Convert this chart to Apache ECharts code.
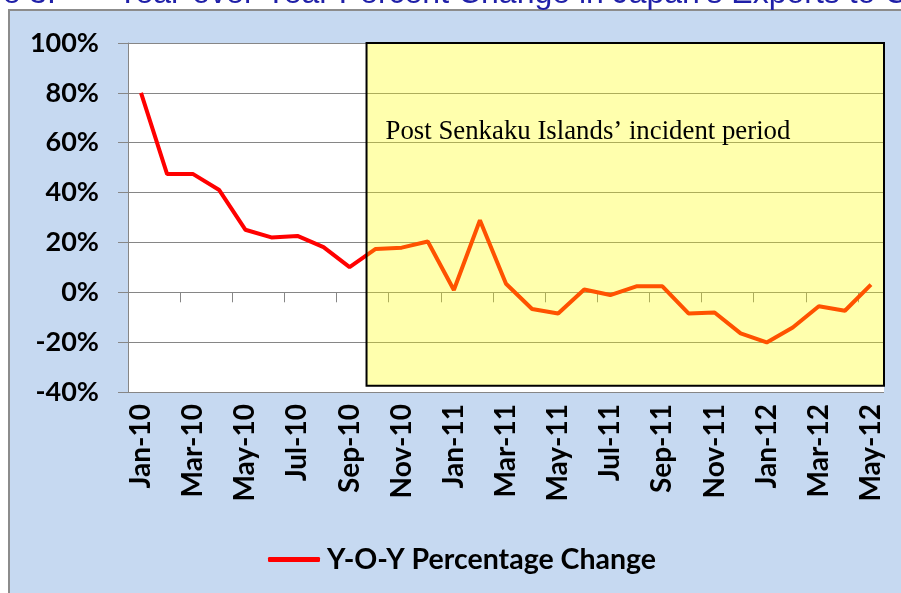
<!DOCTYPE html>
<html>
<head>
<meta charset="utf-8">
<title>Japan exports to China - Y-O-Y change</title>
<script src="https://cdn.jsdelivr.net/npm/echarts@6/dist/echarts.min.js"></script>
<style>
  html, body { margin: 0; padding: 0; background: #fff; }
  #chart { width: 901px; height: 593px; }
</style>
</head>
<body>
<div id="chart"></div>
<script>
// months on the category axis
const months = [
  'Jan-10', 'Feb-10', 'Mar-10', 'Apr-10', 'May-10', 'Jun-10', 'Jul-10', 'Aug-10', 'Sep-10', 'Oct-10', 'Nov-10', 'Dec-10',
  'Jan-11', 'Feb-11', 'Mar-11', 'Apr-11', 'May-11', 'Jun-11', 'Jul-11', 'Aug-11', 'Sep-11', 'Oct-11', 'Nov-11', 'Dec-11',
  'Jan-12', 'Feb-12', 'Mar-12', 'Apr-12', 'May-12'
]
// year over year change, percent
const yoyChange = [
  80, 47.4, 47.4, 41, 25.1, 22, 22.6, 18.1, 10.1, 17.4, 17.9, 20.4,
  0.9, 28.9, 3.4, -6.7, -8.5, 1.1, -1.1, 2.4, 2.4, -8.5, -8.1, -16.5,
  -20.1, -14.1, -5.6, -7.4, 3.1
]
// y axis ticks
const yMin = -40
const yMax = 100
const yStep = 20
// shaded box: post incident period (month slots / percent)
const incidentFrom = 9.15
const incidentTo = 29
const incidentTop = 100.5
const incidentBottom = -37.5

const seriesName = 'Y-O-Y Percentage Change'
const gridColor = '#868686'

const chart = echarts.init(document.getElementById('chart'))

chart.setOption({
  animation: false,
  backgroundColor: '#fff',
  graphic: [
    {
      type: 'rect', z: -1, silent: true,
      shape: { x: 9, y: 10, width: 900, height: 590 },
      style: { fill: '#c6d9f1', stroke: '#8c8c8c', lineWidth: 2 }
    },
    {
      type: 'text', x: 56, y: -22, silent: true,
      style: { text: 'Figure 3:', align: 'right', fill: '#1f1fa8', font: '32px "Liberation Sans", Arial, sans-serif' }
    },
    {
      type: 'text', x: 117, y: -22, silent: true,
      style: { text: 'Year-over-Year Percent Change in Japan\u2019s Exports to China', fill: '#1f1fa8', font: '32px "Liberation Sans", Arial, sans-serif' }
    }
  ],
  grid: {
    left: 128, top: 43, right: 17, bottom: 201,
    show: true, backgroundColor: '#fff', borderWidth: 0
  },
  legend: {
    data: [seriesName],
    left: 268, top: 545, padding: 0,
    icon: 'roundRect', itemWidth: 52, itemHeight: 5, itemGap: 0,
    textStyle: { fontFamily: 'Lato', fontWeight: 'bold', fontSize: 28.5, color: '#000', padding: [0, 0, 0, 2] }
  },
  xAxis: [
    {
      // labels along the bottom
      type: 'category', data: months, position: 'bottom',
      axisLine: { show: false, onZero: false },
      axisTick: { show: false },
      axisLabel: {
        interval: 1, rotate: 90, margin: 12,
        fontFamily: 'Lato', fontWeight: 'bold', fontSize: 28, color: '#000'
      }
    },
    {
      // the 0% line with its ticks
      type: 'category', data: months, position: 'bottom',
      axisLine: { show: true, onZero: true, lineStyle: { color: gridColor, width: 1 } },
      axisTick: { show: true, interval: 1, length: 10, lineStyle: { color: gridColor } },
      axisLabel: { show: false }
    },
    {
      // hidden value scale for the shaded box
      type: 'value', min: 0, max: months.length, show: false
    }
  ],
  yAxis: {
    type: 'value', min: yMin, max: yMax, interval: yStep,
    axisLine: { show: true, onZero: false, lineStyle: { color: gridColor } },
    axisTick: { show: true, length: 10, lineStyle: { color: gridColor } },
    splitLine: { show: true, lineStyle: { color: gridColor, width: 1 } },
    axisLabel: {
      margin: 29, formatter: '{value}%',
      fontFamily: 'Lato', fontWeight: 'bold', fontSize: 27, color: '#000'
    }
  },
  series: [
    {
      name: seriesName, type: 'line', xAxisIndex: 1, z: 3,
      data: yoyChange,
      showSymbol: false,
      lineStyle: { color: '#ff0000', width: 4 },
      itemStyle: { color: '#ff0000' }
    },
    {
      type: 'line', xAxisIndex: 2, data: [], silent: true, z: 6,
      markArea: {
        z: 6, silent: true,
        itemStyle: { color: 'rgba(255,255,0,0.32)', borderColor: '#000', borderWidth: 2 },
        label: {
          show: true, position: [20, 76],
          fontFamily: '"Liberation Serif", "Times New Roman", serif', fontSize: 26.8, color: '#000'
        },
        data: [[
          { name: 'Post Senkaku Islands\u2019 incident period', coord: [incidentFrom, incidentTop] },
          { coord: [incidentTo, incidentBottom] }
        ]]
      }
    }
  ]
})
</script>
</body>
</html>
